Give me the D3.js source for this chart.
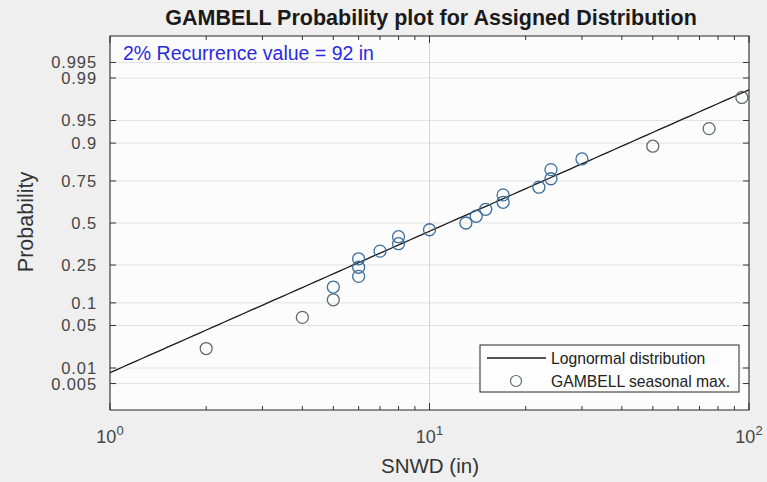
<!DOCTYPE html>
<html><head><meta charset="utf-8">
<script src="https://cdn.jsdelivr.net/npm/d3@7"></script>
<style>
body{margin:0;background:#efefef;}
svg{display:block;font-family:"Liberation Sans",Arial,sans-serif;}
</style></head>
<body>
<svg id="c" width="767" height="482"></svg>
<script>
// ---- data ----
const snwd = [2,4,5,5,6,6,6,7,8,8,10,13,14,15,17,17,22,24,24,30,50,75,95];
const prob = [0.022,0.065,0.109,0.152,0.196,0.239,0.283,0.326,0.370,0.413,0.457,0.500,
              0.543,0.587,0.630,0.674,0.717,0.761,0.804,0.848,0.891,0.935,0.978];
const yTickValues = [0.005,0.01,0.05,0.1,0.25,0.5,0.75,0.9,0.95,0.99,0.995];
const yTickLabels = ["0.005","0.01","0.05","0.1","0.25","0.5","0.75","0.9","0.95","0.99","0.995"];
const xMajor = [1,10,100];
const xMajorExp = ["0","1","2"];
const lognormParams = [2.437, 1.015]; // mu, sigma (ln)
const fitRange = [1,100];
const titleText = "GAMBELL Probability plot for Assigned Distribution";
const recurrenceText = "2% Recurrence value = 92 in";
const legendLabels = ["Lognormal distribution","GAMBELL seasonal max."];

// inverse normal CDF (Acklam)
function probit(p){
  const a=[-3.969683028665376e+01,2.209460984245205e+02,-2.759285104469687e+02,1.383577518672690e+02,-3.066479806614716e+01,2.506628277459239e+00];
  const b=[-5.447609879822406e+01,1.615858368580409e+02,-1.556989798598866e+02,6.680131188771972e+01,-1.328068155288572e+01];
  const c=[-7.784894002430293e-03,-3.223964580411365e-01,-2.400758277161838e+00,-2.549732539343734e+00,4.374664141464968e+00,2.938163982698783e+00];
  const d=[7.784695709041462e-03,3.224671290700398e-01,2.445134137142996e+00,3.754408661907416e+00];
  const pl=0.02425, ph=1-pl; let q,r;
  if(p<pl){q=Math.sqrt(-2*Math.log(p));return (((((c[0]*q+c[1])*q+c[2])*q+c[3])*q+c[4])*q+c[5])/((((d[0]*q+d[1])*q+d[2])*q+d[3])*q+1);}
  if(p<=ph){q=p-0.5;r=q*q;return (((((a[0]*r+a[1])*r+a[2])*r+a[3])*r+a[4])*r+a[5])*q/(((((b[0]*r+b[1])*r+b[2])*r+b[3])*r+b[4])*r+1);}
  q=Math.sqrt(-2*Math.log(1-p));return -(((((c[0]*q+c[1])*q+c[2])*q+c[3])*q+c[4])*q+c[5])/((((d[0]*q+d[1])*q+d[2])*q+d[3])*q+1);
}

const svg = d3.select("#c");
const L=110, R=749, T=36, B=410;
const x = d3.scaleLog().domain([1,100]).range([L,R]);
const z = d3.scaleLinear().domain([-3,3]).range([B,T]);
const y = p => z(probit(p));

// plot background
svg.append("rect").attr("x",L).attr("y",T).attr("width",R-L).attr("height",B-T).attr("fill","#fcfcfc");

// grid
const g = svg.append("g");
g.selectAll("line.hg").data(yTickValues).join("line")
  .attr("x1",L).attr("x2",R).attr("y1",d=>y(d)).attr("y2",d=>y(d))
  .attr("stroke","#e2e2e2").attr("stroke-width",1);
g.selectAll("line.vg").data(xMajor).join("line")
  .attr("y1",T).attr("y2",B).attr("x1",d=>x(d)).attr("x2",d=>x(d))
  .attr("stroke","#d4d4d4").attr("stroke-width",1);

// ticks
const minor = [];
for(let dec of [1,10]) for(let k=2;k<=9;k++) minor.push(dec*k);
const tk = svg.append("g").attr("stroke","#333").attr("stroke-width",1);
xMajor.forEach(v=>{
  tk.append("line").attr("x1",x(v)).attr("x2",x(v)).attr("y1",B).attr("y2",B-7);
  tk.append("line").attr("x1",x(v)).attr("x2",x(v)).attr("y1",T).attr("y2",T+7);
});
minor.forEach(v=>{
  tk.append("line").attr("x1",x(v)).attr("x2",x(v)).attr("y1",B).attr("y2",B-4);
  tk.append("line").attr("x1",x(v)).attr("x2",x(v)).attr("y1",T).attr("y2",T+4);
});
yTickValues.forEach(v=>{
  tk.append("line").attr("x1",L).attr("x2",L+6).attr("y1",y(v)).attr("y2",y(v));
  tk.append("line").attr("x1",R).attr("x2",R-6).attr("y1",y(v)).attr("y2",y(v));
});

// fitted line
const [mu,sig] = lognormParams;
const fitPts = d3.range(0,101).map(i=>{const v=Math.pow(10,Math.log10(fitRange[0])+i/100*(Math.log10(fitRange[1])-Math.log10(fitRange[0])));return [v,(Math.log(v)-mu)/sig];});
svg.append("path").datum(fitPts)
  .attr("d",d3.line().x(d=>x(d[0])).y(d=>z(d[1])))
  .attr("fill","none").attr("stroke","#1a1a1a").attr("stroke-width",1.3);

// points
const pts = snwd.map((v,i)=>({v,p:prob[i]}));
svg.append("g").selectAll("circle").data(pts).join("circle")
  .attr("cx",d=>x(d.v)).attr("cy",d=>y(d.p)).attr("r",6)
  .attr("fill","none")
  .attr("stroke",d=> (d.p>0.13 && d.p<0.87) ? "#3c6f9e" : "#5f6a6a")
  .attr("stroke-width",1.3);

// frame
svg.append("rect").attr("x",L).attr("y",T).attr("width",R-L).attr("height",B-T)
  .attr("fill","none").attr("stroke","#262626").attr("stroke-width",1);

// y tick labels
svg.append("g").selectAll("text").data(yTickValues).join("text")
  .attr("x",97).attr("y",d=>y(d)).attr("dy","0.36em").attr("text-anchor","end")
  .attr("font-size",16.5).attr("letter-spacing","0.9px").attr("fill","#454545").text((d,i)=>yTickLabels[i]);

// x tick labels
xMajor.forEach((v,i)=>{
  const t = svg.append("text").attr("x",x(v)).attr("y",443).attr("text-anchor","middle")
    .attr("font-size",18).attr("fill","#454545");
  t.append("tspan").text("10");
  t.append("tspan").attr("dy",-8).attr("font-size",13).text(xMajorExp[i]);
});

// axis labels
svg.append("text").attr("x",430).attr("y",473).attr("text-anchor","middle")
  .attr("font-size",20.5).attr("fill","#333").text("SNWD (in)");
svg.append("text").attr("transform","translate(33,222) rotate(-90)").attr("text-anchor","middle")
  .attr("font-size",21.5).attr("fill","#333").text("Probability");

// title
svg.append("text").attr("x",431).attr("y",25).attr("text-anchor","middle")
  .attr("font-size",21.5).attr("font-weight","bold").attr("fill","#1a1a1a").text(titleText);

// recurrence annotation
svg.append("text").attr("x",123).attr("y",60).attr("font-size",19.5).attr("fill","#2a2ae0").text(recurrenceText);

// legend
const lg = svg.append("g");
lg.append("rect").attr("x",480).attr("y",345).attr("width",259).attr("height",47)
  .attr("fill","#fdfdfd").attr("stroke","#262626").attr("stroke-width",1);
lg.append("line").attr("x1",487).attr("x2",546).attr("y1",358).attr("y2",358).attr("stroke","#1a1a1a").attr("stroke-width",1.3);
lg.append("circle").attr("cx",516).attr("cy",381).attr("r",5.5).attr("fill","none").attr("stroke","#5f6a6a").attr("stroke-width",1.2);
lg.selectAll("text").data(legendLabels).join("text")
  .attr("x",551).attr("y",(d,i)=>358+i*23).attr("dy","0.36em")
  .attr("font-size",15.7).attr("fill","#222").text(d=>d);
</script>
</body></html>
